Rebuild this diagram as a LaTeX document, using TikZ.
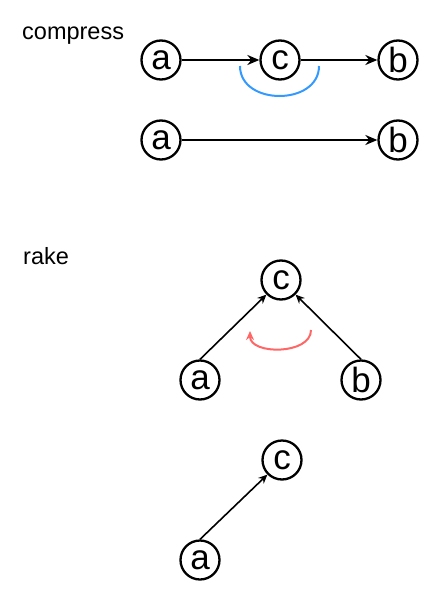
\documentclass[tikz,border=0pt]{standalone}
\usepackage{fontspec}
\setmainfont{Liberation Sans}
\usetikzlibrary{arrows.meta}

\begin{document}
\begin{tikzpicture}[
      x=1pt, y=-1pt,
      vertex/.style={circle, draw, line width=2.3pt, minimum size=39pt, inner sep=0pt,
        font=\fontsize{35}{35}\selectfont},
      title/.style={anchor=west, inner sep=0pt, font=\fontsize{23.5}{23.5}\selectfont},
      bold edge/.style={line width=2.3pt, -{Stealth[length=12pt, width=10pt]}},
      thin edge/.style={line width=1.6pt, -{Stealth[length=9pt, width=8pt]}},
      merge/.style={line width=2pt, draw={rgb,255:red,51;green,153;blue,255}},
      swap/.style={line width=2pt, draw={rgb,255:red,255;green,102;blue,102},
        -{Stealth[length=9pt, width=8pt]}},
  ]
    \useasboundingbox (0,0) rectangle (440,602);

    \node[title] (compress) at (22,36) {compress};
    \node[vertex] (a1) at (161,60) {a};
    \node[vertex] (c1) at (280,60) {c};
    \node[vertex] (b1) at (398,60) {b};
    \draw[bold edge] (a1) -- (c1);
    \draw[bold edge] (c1) -- (b1);
    \coordinate (m1) at (240,66);
    \coordinate (m2) at (319,66);
    \draw[merge] (m1) .. controls (240,106) and (319,106) .. (m2);

    \node[vertex] (a2) at (161,140) {a};
    \node[vertex] (b2) at (398,140) {b};
    \draw[bold edge] (a2) -- (b2);

    \node[title] (rake) at (23,256) {rake};
    \node[vertex] (c3) at (281,280) {c};
    \node[vertex] (a3) at (200,380) {a};
    \node[vertex] (b3) at (361,380) {b};
    \draw[thin edge] (a3.north) -- (c3.225);
    \draw[thin edge] (b3.north) -- (c3.-45);
    \coordinate (s1) at (311,330);
    \coordinate (s2) at (250,331);
    \draw[swap] (s1) .. controls (311,355) and (250,355) .. (s2);

    \node[vertex] (c4) at (282,460) {c};
    \node[vertex] (a4) at (200,560) {a};
    \draw[thin edge] (a4.north) -- (c4.225);
\end{tikzpicture}
\end{document}
